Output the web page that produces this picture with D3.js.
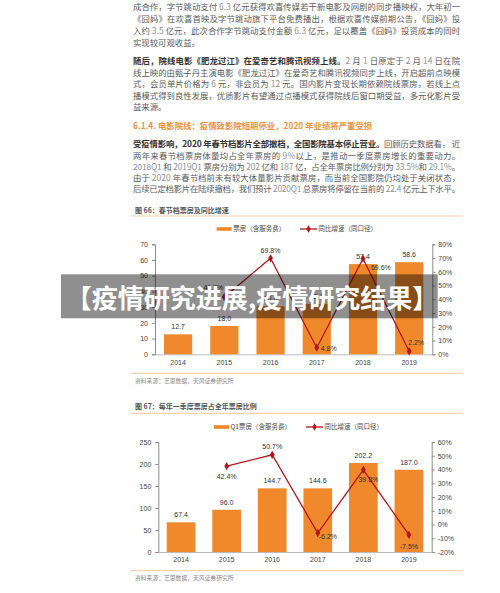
<!DOCTYPE html>
<html><head><meta charset="utf-8">
<script src="https://cdn.jsdelivr.net/npm/d3@7"></script>
<style>
html,body{margin:0;padding:0;background:#fff;}
svg{display:block;}
text{white-space:pre;}
</style></head><body>
<svg id="c" width="500" height="593"></svg>
<script>
// ---------- data ----------
const years = ['2014','2015','2016','2017','2018','2019'];
const springBoxOffice = [12.7, 18.0, 30.6, 32.1, 57.4, 58.6];
const springGrowth = [null, 41.7, 69.8, 4.8, 69.6, 2.2];
const q1BoxOffice = [67.4, 96.0, 144.7, 144.6, 202.2, 187.0];
const q1Growth = [null, 42.4, 50.7, -6.2, 39.8, -7.5];

const chart1Title = '图 66：春节档票房及同比增速';
const chart2Title = '图 67：每年一季度票房占全年票房比例';
const chart1BarName = '票房（含服务费）';
const chart2BarName = 'Q1票房（含服务费）';
const lineName = '同比增速（同口径）';
const sourceText = '资料来源：艺恩数据，天风证券研究所';
const bannerText = '【疫情研究进展,疫情研究结果】';
const headingText = '6.1.4. 电影院线：疫情致影院短期停业，2020 年业绩将严重受损';

const bodyLines = [
 {y:7,    j:1, s:'成合作，字节跳动支付 6.3 亿元获得欢喜传媒若干新电影及网剧的同步播映权，大年初一'},
 {y:19,   j:1, s:'《囧妈》在欢喜首映及字节跳动旗下平台免费播出，根据欢喜传媒前期公告，《囧妈》投'},
 {y:31,   j:1, s:'入约 3.5 亿元，此次合作字节跳动支付金额 6.3 亿元，足以覆盖《囧妈》投资成本的同时'},
 {y:43,   j:0, s:'实现较可观收益。'},
 {y:61,   j:1, s:'**随后，院线电影《肥龙过江》在爱奇艺和腾讯视频上线。**2 月 1 日原定于 2 月 14 日在院'},
 {y:72.5, j:1, s:'线上映的由甄子丹主演电影《肥龙过江》在爱奇艺和腾讯视频同步上线，开启超前点映模'},
 {y:84,   j:1, s:'式，会员单片价格为 6 元，非会员为 12 元。国内影片变现长期依赖院线票房，若线上点'},
 {y:95.5, j:1, s:'播模式得到良性发展，优质影片有望通过点播模式获得院线后窗口期受益，多元化影片受'},
 {y:107,  j:0, s:'益来源。'},
 {y:144.3,j:1, s:'**受疫情影响，2020 年春节档影片全部撤档，全国影院基本停止营业。**回顾历史数据看， 近'},
 {y:155.6,j:1, s:'两年来春节档票房体量均占全年票房的 9%以上，是推动一季度票房增长的重要动力。'},
 {y:166.8,j:1, s:'2018Q1 和 2019Q1 票房分别为 202 亿和 187 亿，占全年票房比例分别为 33.5%和 29.1%。'},
 {y:178,  j:1, s:'由于 2020 年春节档前未有较大体量影片贡献票房，而当前全国影院仍均处于关闭状态，'},
 {y:189.2,j:1, s:'后续已定档影片在陆续撤档，我们预计 2020Q1 总票房将停留在当前的 22.4 亿元上下水平。'}
];

// ---------- styles ----------
const FONT = '"Noto Sans CJK SC","Noto Sans",sans-serif';
const LATIN = '"Liberation Sans",Arial,sans-serif';
const ORANGE = '#F0892B';
const RED = '#B3171C';
const AXIS = '#8c8c8c';
const SEP = '#F3D2AE';

const svg = d3.select('#c');
svg.append('rect').attr('width',500).attr('height',593).attr('fill','#fff');

// ---------- body text ----------
function drawLine(L, x, width, fs) {
  const t = svg.append('text').attr('x', x).attr('y', L.y + fs*0.36)
    .attr('font-size', fs).attr('font-family', FONT);
  if (L.j) t.attr('textLength', width).attr('lengthAdjust', 'spacing');
  L.s.split(/(\*\*[^*]+\*\*)/).filter(d => d).forEach(p => {
    if (p.startsWith('**')) {
      t.append('tspan').attr('font-weight','bold').attr('fill','#333').text(p.slice(2,-2));
    } else {
      p.split(/([0-9][0-9A-Za-z.%]*)/).filter(d => d).forEach(q => {
        const num = /^[0-9]/.test(q);
        t.append('tspan').attr('fill', num ? '#8f8f8f' : '#5a5a5a').text(q);
      });
    }
  });
}
bodyLines.forEach(L => drawLine(L, 133, 327, 8.4));

svg.append('text').attr('x',133).attr('y',125.7+3).attr('font-size',8.4)
  .attr('font-family',FONT).attr('font-weight','bold').attr('fill','#EE9241').text(headingText);

// ---------- charts ----------
function drawChart(o) {
  const g = svg.append('g');
  // title & separators
  g.append('text').attr('x',135).attr('y',o.titleY+2.5).attr('font-size',7)
    .attr('font-family',FONT).attr('font-weight','bold').attr('fill','#555').text(o.title);
  g.append('line').attr('x1',131).attr('x2',463).attr('y1',o.sepTop).attr('y2',o.sepTop)
    .attr('stroke',SEP).attr('stroke-width',1.2);
  g.append('line').attr('x1',131).attr('x2',463).attr('y1',o.sepBot).attr('y2',o.sepBot)
    .attr('stroke',SEP).attr('stroke-width',1.2);
  g.append('text').attr('x',135).attr('y',o.sourceY+2).attr('font-size',5.8)
    .attr('font-family',FONT).attr('fill','#888').text(sourceText);

  const x = d3.scaleBand().domain(years).range([o.x0, o.x1])
    .paddingInner(o.pad).paddingOuter(o.pad/2);
  const yL = d3.scaleLinear().domain(o.leftDomain).range([o.yBottom, o.yTop]);
  const yR = d3.scaleLinear().domain(o.rightDomain).range([o.yBottom, o.yTop]);

  // axes
  const styleAxis = a => {
    a.select('.domain').attr('stroke',AXIS);
    a.selectAll('.tick line').attr('stroke',AXIS);
    a.selectAll('text').attr('fill','#444').attr('font-size',7).attr('font-family',LATIN);
  };
  g.append('g').attr('transform',`translate(${o.x0},0)`)
    .call(d3.axisLeft(yL).ticks(o.leftTicks).tickSize(3).tickSizeOuter(3).tickPadding(4))
    .call(styleAxis);
  g.append('g').attr('transform',`translate(${o.x1},0)`)
    .call(d3.axisRight(yR).ticks(o.rightTicks).tickSize(3).tickSizeOuter(3).tickPadding(3)
      .tickFormat(d => d + '%'))
    .call(styleAxis);
  g.append('g').attr('transform',`translate(0,${o.yBottom})`)
    .call(d3.axisBottom(x).tickSize(0).tickPadding(5.5))
    .call(a => { a.select('.domain').attr('stroke','#bbb'); })
    .call(a => a.selectAll('text').attr('fill','#444').attr('font-size',7).attr('font-family',LATIN));

  // bars
  g.selectAll('rect.bar').data(o.bars).join('rect').attr('class','bar')
    .attr('x',(d,i) => x(years[i])).attr('width',x.bandwidth())
    .attr('y',d => yL(d)).attr('height',d => yL(0) - yL(d)).attr('fill',ORANGE);
  g.selectAll('text.bl').data(o.bars).join('text').attr('class','bl')
    .attr('x',(d,i) => x(years[i]) + x.bandwidth()/2).attr('y',d => yL(d) - 5)
    .attr('text-anchor','middle').attr('font-size',7).attr('font-family',LATIN)
    .attr('fill','#333').text(d => d.toFixed(1));

  // line
  const pts = o.line.map((v,i) => ({v, i})).filter(d => d.v != null);
  const cx = d => x(years[d.i]) + x.bandwidth()/2;
  g.append('path').datum(pts)
    .attr('d', d3.line().x(cx).y(d => yR(d.v)))
    .attr('fill','none').attr('stroke',RED).attr('stroke-width',1.3);
  g.selectAll('path.mk').data(pts).join('path').attr('class','mk')
    .attr('transform', d => `translate(${cx(d)},${yR(d.v)})`)
    .attr('d', d3.symbol(d3.symbolDiamond, 20)).attr('fill',RED);
  g.selectAll('text.ll').data(pts).join('text').attr('class','ll')
    .attr('x', d => cx(d) + o.lblPos[d.i][0]).attr('y', d => yR(d.v) + o.lblPos[d.i][1] + 2.5)
    .attr('text-anchor', d => o.lblPos[d.i][2]).attr('font-size',7).attr('font-family',LATIN)
    .attr('fill','#333').text(d => d.v.toFixed(1) + '%');

  // legend
  const ly = o.legendY;
  g.append('rect').attr('x',o.legX).attr('y',ly-1.8).attr('width',15).attr('height',3.6).attr('fill',ORANGE);
  g.append('text').attr('x',o.legX+16.5).attr('y',ly+2.3).attr('font-size',6.5)
    .attr('font-family',FONT).attr('fill','#444').text(o.barName);
  g.append('line').attr('x1',o.legX2).attr('x2',o.legX2+17).attr('y1',ly).attr('y2',ly)
    .attr('stroke',RED).attr('stroke-width',1.3);
  g.append('path').attr('transform',`translate(${o.legX2+8.5},${ly})`)
    .attr('d', d3.symbol(d3.symbolDiamond, 16)).attr('fill',RED);
  g.append('text').attr('x',o.legX2+18.5).attr('y',ly+2.3).attr('font-size',6.5)
    .attr('font-family',FONT).attr('fill','#444').text(lineName);
}

drawChart({
  title: chart1Title, titleY: 210, sepTop: 216, sepBot: 373.3, sourceY: 380.5,
  x0: 155, x1: 432.3, pad: 0.39, yTop: 244.3, yBottom: 354.3,
  leftDomain: [0,70], rightDomain: [0,80], leftTicks: 7, rightTicks: 8,
  bars: springBoxOffice, line: springGrowth, barName: chart1BarName,
  legendY: 229, legX: 216.7, legX2: 300,
  lblPos: [null, [-11,-9,'middle'], [0,-8,'middle'], [4,0.5,'start'], [8,9,'start'], [-1,-9,'start']]
});
drawChart({
  title: chart2Title, titleY: 406.7, sepTop: 413.3, sepBot: 570.7, sourceY: 577.5,
  x0: 158.3, x1: 431.7, pad: 0.37, yTop: 442, yBottom: 552,
  leftDomain: [0,250], rightDomain: [-20,60], leftTicks: 5, rightTicks: 8,
  bars: q1BoxOffice, line: q1Growth, barName: chart2BarName,
  legendY: 427, legX: 214, legX2: 306,
  lblPos: [null, [0,10.5,'middle'], [0,-8,'middle'], [1,3,'start'], [5,9.5,'middle'], [0,11.5,'middle']]
});

// ---------- banner ----------
svg.append('rect').attr('x',61).attr('y',274.3).attr('width',376.7).attr('height',44)
  .attr('fill','rgba(0,0,0,0.44)');
svg.append('text').attr('x',252).attr('y',296).attr('dominant-baseline','central')
  .attr('text-anchor','middle').attr('font-size',26).attr('font-weight','bold')
  .attr('font-family',FONT).attr('fill','#fff').text(bannerText);
</script>
</body></html>
